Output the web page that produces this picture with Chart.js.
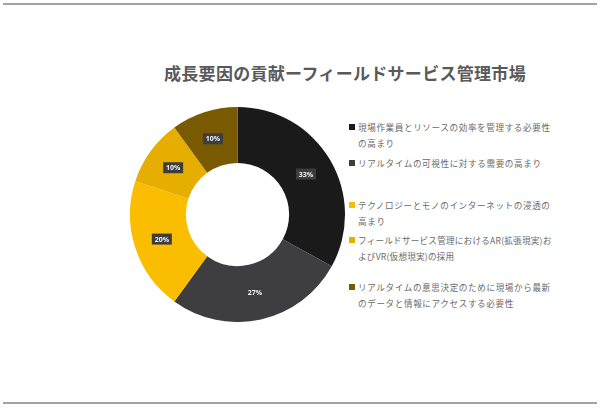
<!DOCTYPE html>
<html>
<head>
<meta charset="utf-8">
<script src="https://cdn.jsdelivr.net/npm/chart.js@4"></script>
<style>
  html, body { margin: 0; padding: 0; background: #fff; }
  #page { position: relative; width: 600px; height: 408px; overflow: hidden;
          font-family: "Noto Sans CJK JP", "Noto Sans", sans-serif; }
  .rule { position: absolute; left: 3px; width: 594px; height: 2px; background: #a3a3a3; }
  #title { position: absolute; left: 130px; width: 430px; top: 60px; text-align: center;
           font-size: 17px; font-weight: bold; color: #5a5a5a; letter-spacing: 0.3px; }
  #chartBox { position: absolute; left: 130px; top: 107px; width: 215px; height: 215px; }
  #legend { position: absolute; left: 347px; top: 0; width: 220px; }
  .item { position: absolute; left: 0; width: 197px; font-size: 8.6px; line-height: 16px;
          color: #6a6a6a; padding-left: 11px; letter-spacing: 0.6px; }
  .item:nth-child(4) { letter-spacing: 0.22px; }
  .item i { position: absolute; left: 2px; top: 5px; width: 6px; height: 6px; }
</style>
</head>
<body>
<div id="page">
  <div class="rule" style="top:3px"></div>
  <div class="rule" style="top:402px"></div>
  <div id="title"></div>
  <div id="chartBox"><canvas id="donut"></canvas></div>
  <div id="legend"></div>
</div>
<script>
// データ
const titleText = "成長要因の貢献ーフィールドサービス管理市場"
const categories = [
  "現場作業員とリソースの効率を管理する必要性の高まり",
  "リアルタイムの可視性に対する需要の高まり",
  "テクノロジーとモノのインターネットの浸透の高まり",
  "フィールドサービス管理におけるAR(拡張現実)およびVR(仮想現実)の採用",
  "リアルタイムの意思決定のために現場から最新のデータと情報にアクセスする必要性"
]
const shares = [33, 27, 20, 10, 10]
const colors = ["#1b1a1a", "#3e3d3f", "#fbbd00", "#e6ae00", "#7a5a00"]
const legendTops = [119, 155, 197, 232, 279]

document.getElementById("title").textContent = titleText

// 凡例（折り返しが必要なのでHTMLで）
const legend = document.getElementById("legend")
categories.forEach((name, i) => {
  const d = document.createElement("div")
  d.className = "item"
  d.style.top = legendTops[i] + "px"
  const sq = document.createElement("i")
  sq.style.background = colors[i]
  d.appendChild(sq)
  d.appendChild(document.createTextNode(name))
  legend.appendChild(d)
})

// パーセント表示のラベル
const boxLabels = {
  id: "boxLabels",
  afterDatasetsDraw(chart) {
    const c = chart.ctx
    const meta = chart.getDatasetMeta(0)
    c.save()
    c.font = "bold 7px 'Open Sans', sans-serif"
    c.textAlign = "center"
    c.textBaseline = "middle"
    meta.data.forEach((arc, i) => {
      const p = arc.tooltipPosition()
      const txt = shares[i] + "%"
      const w = 20, h = 11
      c.fillStyle = "#3d3d3d"
      c.fillRect(p.x - w / 2, p.y - h / 2, w, h)
      c.fillStyle = "#f2f2f2"
      c.fillText(txt, p.x, p.y + 0.5)
    })
    c.restore()
  }
}

new Chart(document.getElementById("donut"), {
  type: "doughnut",
  data: {
    labels: categories,
    datasets: [{
      data: shares,
      backgroundColor: colors,
      borderWidth: 0
    }]
  },
  options: {
    responsive: true,
    maintainAspectRatio: false,
    animation: false,
    cutout: "48%",
    plugins: {
      legend: { display: false },
      tooltip: { enabled: false }
    }
  },
  plugins: [boxLabels]
})
</script>
</body>
</html>
